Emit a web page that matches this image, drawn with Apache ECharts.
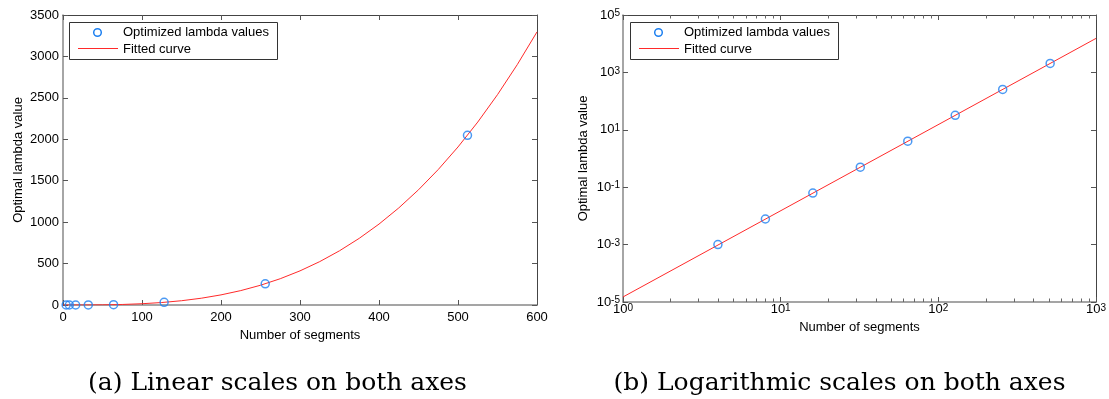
<!DOCTYPE html>
<html>
<head>
<meta charset="utf-8">
<script src="https://cdn.jsdelivr.net/npm/echarts@6/dist/echarts.min.js"></script>
<style>
  html, body { margin: 0; padding: 0; background: #fff; }
  #chart { width: 1109px; height: 399px; }
</style>
</head>
<body>
<div id="chart"></div>
<script>
// ---- data ----
const segments = [4, 8, 16, 32, 64, 128, 256, 512];
const lambdaValues = [0.001, 0.0078, 0.0625, 0.5, 4, 32, 256, 2048];

// fitted curve, linear panel (sampled along the red curve)
const fitX = [0, 25, 50, 75, 100, 125, 150, 175, 200, 225, 250, 275, 300,
              325, 350, 375, 400, 425, 450, 475, 500, 525, 550, 575, 600];
const fitY = [0, 0.24, 1.9, 6.4, 15.3, 29.8, 51.5, 81.8, 122.1, 173.8, 238.4, 317.3, 412.0,
              523.8, 654.2, 804.7, 976.6, 1171.4, 1390.5, 1635.3, 1907.3, 2208.0, 2538.7, 2900.8, 3295.9];

// fitted curve, log panel (end points of the straight red line)
const fitLogX = [1, 1000];
const fitLogY = [1.5e-5, 1.53e4];

// tick labels
const linXTicks = [0, 100, 200, 300, 400, 500, 600];
const linYTicks = [0, 500, 1000, 1500, 2000, 2500, 3000, 3500];
const logXExponents = [0, 1, 2, 3];
const logYExponents = [-5, -3, -1, 1, 3, 5];
const minorMultipliers = [2, 3, 4, 5, 6, 7, 8, 9];

const legendLabels = ['Optimized lambda values', 'Fitted curve'];
const captions = ['(a) Linear scales on both axes', '(b) Logarithmic scales on both axes'];
const xName = 'Number of segments';
const yName = 'Optimal lambda value';

// ---- helpers ----
const L = Math.log10;
const FONT = 'Liberation Sans';
const BLUE = '#1e80f0';
const RED = '#ff2a2a';
const yLogMin = logYExponents[0];
const yLogMax = logYExponents[logYExponents.length - 1];

// minor log tick positions (2..9 in each decade), in exponent space
const minorLog = [];
for (let d = logXExponents[0]; d < logXExponents[logXExponents.length - 1]; d++) {
  minorMultipliers.forEach(k => minorLog.push(d + L(k)));
}

const supRich = {
  b: { fontSize: 13, lineHeight: 13, verticalAlign: 'bottom', padding: [6, 0, 0, 0], fontFamily: FONT, color: '#000' },
  s: { fontSize: 10, lineHeight: 10, verticalAlign: 'top', fontFamily: FONT, color: '#000' }
};
const supFmt = v => '{b|10}{s|' + Math.round(v) + '}';
const plainFmt = v => String(v);

const lineBL = { show: true, onZero: false, lineStyle: { color: '#888', width: 1.5 } };
const lineTR = { show: true, onZero: false, lineStyle: { color: '#444', width: 1 } };
const tickMaj = { show: true, inside: true, length: 5, lineStyle: { color: '#555', width: 1 } };
const noLabel = { show: false };
const labelStyle = { fontSize: 13, color: '#000', fontFamily: FONT, formatter: plainFmt };
const nameStyle = { fontSize: 13, color: '#000', fontFamily: FONT };

const chart = echarts.init(document.getElementById('chart'), null, { renderer: 'canvas' });

function legendGraphics(dx) {
  return [
    { type: 'rect', shape: { x: 69.5 + dx, y: 22.5, width: 208, height: 37 },
      style: { fill: '#fff', stroke: '#333', lineWidth: 1 }, z: 100 },
    { type: 'circle', shape: { cx: 97.5 + dx, cy: 32.5, r: 3.8 },
      style: { fill: 'none', stroke: BLUE, lineWidth: 1.5 }, z: 101 },
    { type: 'line', shape: { x1: 78 + dx, y1: 48.5, x2: 118 + dx, y2: 48.5 },
      style: { stroke: RED, lineWidth: 1 }, z: 101 },
    { type: 'text', style: { text: legendLabels[0], x: 123 + dx, y: 32.5, font: '13px "' + FONT + '"',
      verticalAlign: 'middle', fill: '#000' }, z: 101 },
    { type: 'text', style: { text: legendLabels[1], x: 123 + dx, y: 49, font: '13px "' + FONT + '"',
      verticalAlign: 'middle', fill: '#000' }, z: 101 }
  ];
}

// minor ticks on the log x axis (bottom and top), placed through the axis scale
function renderMinorTick(params, api) {
  const v = api.value(0);
  const pb = api.coord([v, yLogMin]);
  const pt = api.coord([v, yLogMax]);
  const x = Math.round(pb[0]) + 0.5;
  const st = { stroke: '#666', lineWidth: 1, fill: null };
  return {
    type: 'group',
    children: [
      { type: 'line', shape: { x1: x, y1: pb[1], x2: x, y2: pb[1] - 3.5 }, style: st },
      { type: 'line', shape: { x1: x, y1: pt[1], x2: x, y2: pt[1] + 3.5 }, style: st }
    ]
  };
}

const option = {
  animation: false,
  backgroundColor: '#fff',
  textStyle: { fontFamily: FONT },
  grid: [
    { left: 63, top: 15, width: 474, height: 290 },
    { left: 623, top: 15, width: 473, height: 287 }
  ],
  xAxis: [
    // linear panel
    { type: 'value', gridIndex: 0, position: 'bottom', min: linXTicks[0], max: linXTicks[linXTicks.length - 1],
      interval: 100, axisLine: lineBL, axisTick: tickMaj, splitLine: { show: false },
      axisLabel: Object.assign({ margin: 6 }, labelStyle),
      name: xName, nameLocation: 'middle', nameGap: 17, nameTextStyle: nameStyle },
    { type: 'value', gridIndex: 0, position: 'top', min: 0, max: 600, interval: 100,
      axisLine: lineTR, axisTick: tickMaj, axisLabel: noLabel, splitLine: { show: false } },
    // log panel
    { type: 'value', gridIndex: 1, position: 'bottom', min: logXExponents[0], max: logXExponents[logXExponents.length - 1],
      interval: 1, axisLine: lineBL, axisTick: tickMaj, splitLine: { show: false },
      axisLabel: { margin: 1, formatter: supFmt, rich: supRich },
      name: xName, nameLocation: 'middle', nameGap: 17, nameTextStyle: nameStyle },
    { type: 'value', gridIndex: 1, position: 'top', min: 0, max: 3, interval: 1,
      axisLine: lineTR, axisTick: tickMaj, axisLabel: noLabel, splitLine: { show: false } }
  ],
  yAxis: [
    { type: 'value', gridIndex: 0, position: 'left', min: linYTicks[0], max: linYTicks[linYTicks.length - 1],
      interval: 500, axisLine: lineBL, axisTick: tickMaj, splitLine: { show: false },
      axisLabel: Object.assign({ margin: 4 }, labelStyle),
      name: yName, nameLocation: 'middle', nameGap: 38, nameRotate: 90, nameTextStyle: nameStyle },
    { type: 'value', gridIndex: 0, position: 'right', min: 0, max: 3500, interval: 500,
      axisLine: lineTR, axisTick: tickMaj, axisLabel: noLabel, splitLine: { show: false } },
    { type: 'value', gridIndex: 1, position: 'left', min: yLogMin, max: yLogMax,
      interval: 2, axisLine: lineBL, axisTick: tickMaj, splitLine: { show: false },
      axisLabel: { margin: 3, formatter: supFmt, rich: supRich },
      name: yName, nameLocation: 'middle', nameGap: 33, nameRotate: 90, nameTextStyle: nameStyle },
    { type: 'value', gridIndex: 1, position: 'right', min: -5, max: 5, interval: 2,
      axisLine: lineTR, axisTick: tickMaj, axisLabel: noLabel, splitLine: { show: false } }
  ],
  series: [
    { type: 'line', xAxisIndex: 0, yAxisIndex: 0, showSymbol: false, symbol: 'none',
      data: fitX.map((x, i) => [x, fitY[i]]), lineStyle: { color: RED, width: 1 }, z: 2 },
    { type: 'scatter', xAxisIndex: 0, yAxisIndex: 0, symbol: 'circle', symbolSize: 8,
      data: segments.map((s, i) => [s, lambdaValues[i]]),
      itemStyle: { color: 'rgba(0,0,0,0)', borderColor: BLUE, borderWidth: 1.5 }, z: 3 },
    { type: 'line', xAxisIndex: 2, yAxisIndex: 2, showSymbol: false, symbol: 'none',
      data: fitLogX.map((x, i) => [L(x), L(fitLogY[i])]), lineStyle: { color: RED, width: 1 }, z: 2 },
    { type: 'scatter', xAxisIndex: 2, yAxisIndex: 2, symbol: 'circle', symbolSize: 8,
      data: segments.map((s, i) => [L(s), L(lambdaValues[i])]),
      itemStyle: { color: 'rgba(0,0,0,0)', borderColor: BLUE, borderWidth: 1.5 }, z: 3 },
    { type: 'custom', coordinateSystem: 'cartesian2d', xAxisIndex: 2, yAxisIndex: 2, clip: false, silent: true,
      data: minorLog.map(v => [v, yLogMin]), encode: { x: 0, y: 1 }, renderItem: renderMinorTick, z: 4 }
  ],
  graphic: [
    ...legendGraphics(0),
    ...legendGraphics(561),
    { type: 'text', style: { text: captions[0], x: 277.5, y: 383, font: '25px "DejaVu Serif"',
      align: 'center', verticalAlign: 'middle', fill: '#000' } },
    { type: 'text', style: { text: captions[1], x: 839.5, y: 383, font: '25px "DejaVu Serif"',
      align: 'center', verticalAlign: 'middle', fill: '#000' } }
  ]
};

chart.setOption(option);
</script>
</body>
</html>
